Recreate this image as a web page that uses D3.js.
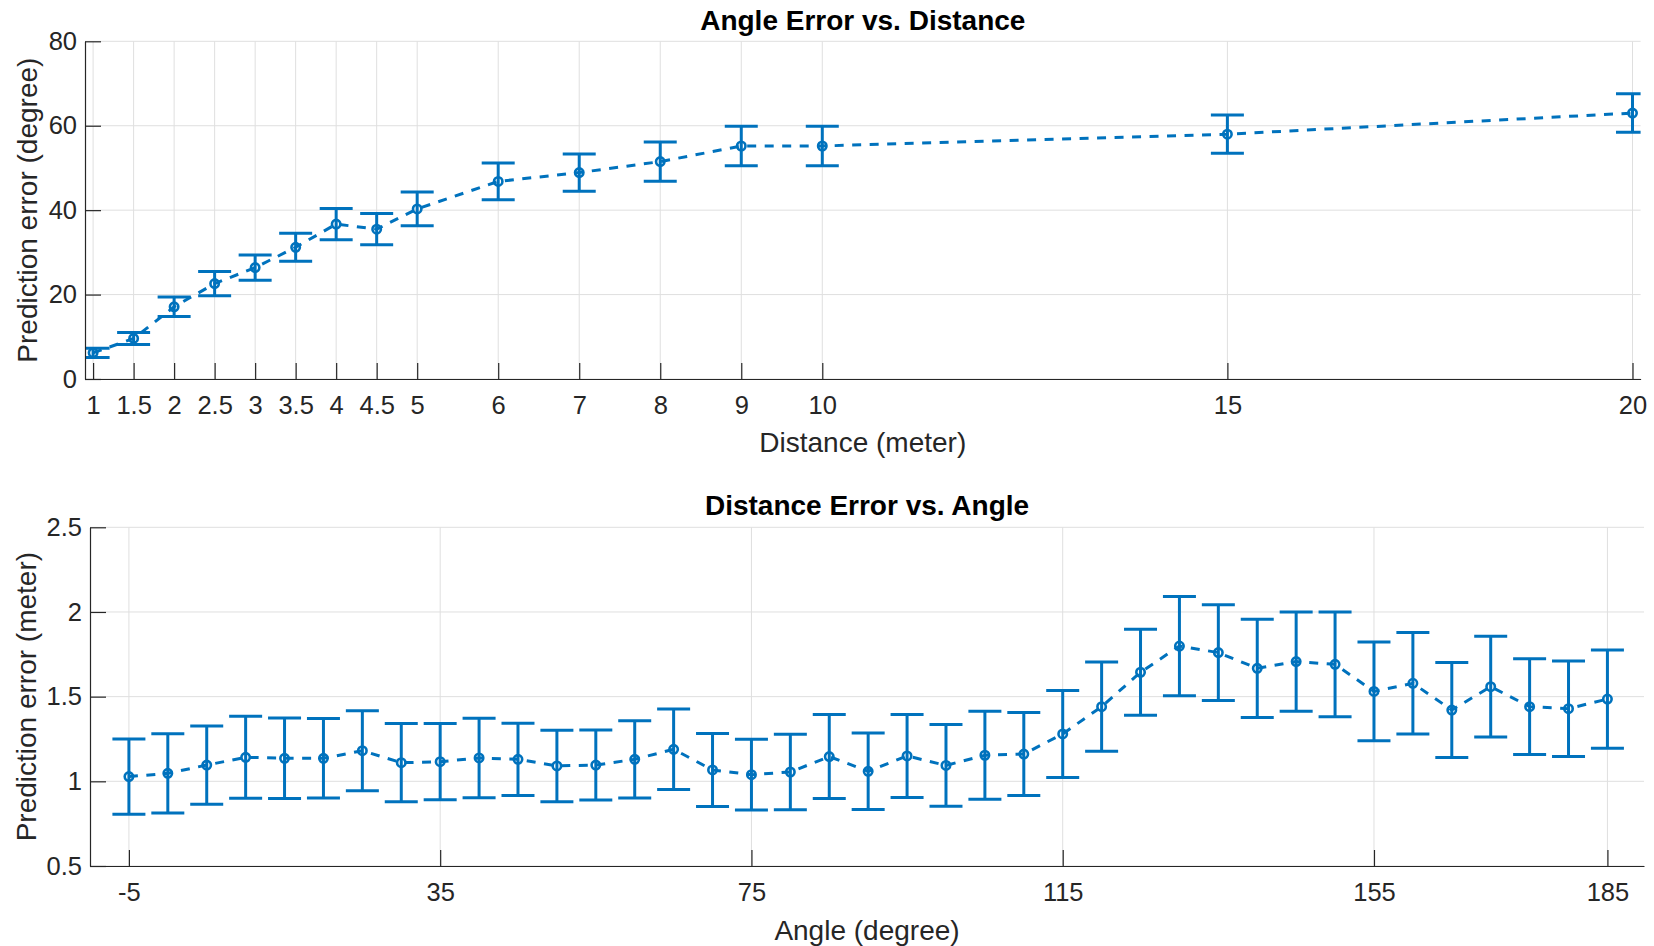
<!DOCTYPE html>
<html><head><meta charset="utf-8">
<script src="https://cdn.jsdelivr.net/npm/d3@7"></script>
<style>
body{margin:0;background:#fff}
svg{display:block}
text{font-family:"Liberation Sans",Arial,Helvetica,sans-serif}
</style>
</head><body>
<svg id="c" width="1654" height="946"></svg>
<script>
// ---- Top panel data: Angle Error vs. Distance ----
const distances = [1,1.5,2,2.5,3,3.5,4,4.5,5,6,7,8,9,10,15,20];
const angleErrMean = [6.2,9.6,17.1,22.6,26.4,31.2,36.7,35.5,40.3,46.8,48.9,51.5,55.2,55.2,58.0,63.0];
const angleErrStd  = [1.1,1.4,2.3,2.85,3.0,3.3,3.7,3.7,4.0,4.35,4.4,4.65,4.7,4.7,4.55,4.55];
const distTicks = [1,1.5,2,2.5,3,3.5,4,4.5,5,6,7,8,9,10,15,20];
const distTickLabels = ["1","1.5","2","2.5","3","3.5","4","4.5","5","6","7","8","9","10","15","20"];
const angErrTicks = [0,20,40,60,80];
const angErrTickLabels = ["0","20","40","60","80"];

// ---- Bottom panel data: Distance Error vs. Angle ----
const angles = [-5,0,5,10,15,20,25,30,35,40,45,50,55,60,65,70,75,80,85,90,95,100,105,110,115,120,125,130,135,140,145,150,155,160,165,170,175,180,185];
const distErrMean = [1.028,1.047,1.096,1.142,1.136,1.136,1.181,1.110,1.116,1.138,1.130,1.091,1.096,1.130,1.189,1.067,1.039,1.055,1.146,1.059,1.150,1.094,1.154,1.161,1.280,1.441,1.644,1.799,1.760,1.667,1.707,1.691,1.531,1.579,1.421,1.559,1.441,1.429,1.486];
const distErrStd  = [0.222,0.234,0.231,0.242,0.238,0.235,0.236,0.231,0.225,0.235,0.213,0.211,0.207,0.228,0.238,0.215,0.209,0.223,0.248,0.226,0.245,0.241,0.260,0.245,0.257,0.263,0.254,0.293,0.282,0.290,0.293,0.309,0.292,0.300,0.281,0.297,0.283,0.282,0.290];
const angleTicks = [-5,35,75,115,155,185];
const angleTickLabels = ["-5","35","75","115","155","185"];
const distErrTicks = [0.5,1,1.5,2,2.5];
const distErrTickLabels = ["0.5","1","1.5","2","2.5"];

const BLUE = "#0072BD";
const AX = "#262626";
const GRID = "#dfdfdf";
const svg = d3.select("#c");
const defs = svg.append("defs");

function panel(o){
  const x = d3.scaleLinear().domain(o.xDomain).range([o.left, o.right]);
  const y = d3.scaleLinear().domain(o.yDomain).range([o.bottom, o.top]);
  const g = svg.append("g");

  // grid
  g.append("g").selectAll("line").data(o.xTicks).join("line")
    .attr("x1", d => x(d)).attr("x2", d => x(d))
    .attr("y1", o.top).attr("y2", o.bottom)
    .attr("stroke", GRID).attr("stroke-width", 1);
  g.append("g").selectAll("line").data(o.yTicks).join("line")
    .attr("x1", o.left).attr("x2", o.right)
    .attr("y1", d => y(d)).attr("y2", d => y(d))
    .attr("stroke", GRID).attr("stroke-width", 1);

  // clip
  defs.append("clipPath").attr("id", o.id)
    .append("rect").attr("x", o.left).attr("y", o.top)
    .attr("width", o.right - o.left).attr("height", o.bottom - o.top);

  const data = o.xs.map((v, i) => ({x: v, m: o.means[i], e: o.errs[i]}));
  const pg = g.append("g").attr("clip-path", `url(#${o.id})`);

  pg.append("path").datum(data)
    .attr("d", d3.line().x(d => x(d.x)).y(d => y(d.m)))
    .attr("fill", "none").attr("stroke", BLUE)
    .attr("stroke-width", 3).attr("stroke-dasharray", "9,8.5");

  const cap = 16.5;
  const eb = pg.append("g").attr("stroke", BLUE).attr("stroke-width", 3).attr("fill", "none");
  eb.selectAll(".v").data(data).join("line").attr("class", "v")
    .attr("x1", d => x(d.x)).attr("x2", d => x(d.x))
    .attr("y1", d => y(d.m - d.e)).attr("y2", d => y(d.m + d.e));
  eb.selectAll(".t").data(data).join("line").attr("class", "t")
    .attr("x1", d => x(d.x) - cap).attr("x2", d => x(d.x) + cap)
    .attr("y1", d => y(d.m + d.e)).attr("y2", d => y(d.m + d.e));
  eb.selectAll(".b").data(data).join("line").attr("class", "b")
    .attr("x1", d => x(d.x) - cap).attr("x2", d => x(d.x) + cap)
    .attr("y1", d => y(d.m - d.e)).attr("y2", d => y(d.m - d.e));

  g.append("g").selectAll("circle").data(data).join("circle")
    .attr("cx", d => x(d.x)).attr("cy", d => y(d.m)).attr("r", 4.2)
    .attr("fill", "none").attr("stroke", BLUE).attr("stroke-width", 2.6);

  // axes
  const xa = g.append("g").attr("transform", `translate(0,${o.bottom})`)
    .call(d3.axisBottom(x).tickValues(o.xTicks).tickFormat((d, i) => o.xLabels[i])
      .tickSizeInner(-16).tickSizeOuter(0).tickPadding(17));
  const ya = g.append("g").attr("transform", `translate(${o.left},0)`)
    .call(d3.axisLeft(y).tickValues(o.yTicks).tickFormat((d, i) => o.yLabels[i])
      .tickSizeInner(-16).tickSizeOuter(0).tickPadding(8));
  [xa, ya].forEach(a => {
    a.attr("font-size", 25.5);
    a.selectAll("path,line").attr("stroke", AX).attr("stroke-width", 1.2);
    a.selectAll("text").attr("fill", AX);
  });

  // labels
  const cx = (o.left + o.right) / 2;
  g.append("text").attr("x", cx).attr("y", o.titleY).attr("text-anchor", "middle")
    .attr("font-size", 28).attr("font-weight", "bold").attr("fill", "#000").text(o.title);
  g.append("text").attr("x", cx).attr("y", o.xLabelY).attr("text-anchor", "middle")
    .attr("font-size", 28).attr("fill", AX).text(o.xLabel);
  g.append("text").attr("transform", `translate(${o.yLabelX},${(o.top + o.bottom) / 2}) rotate(-90)`)
    .attr("text-anchor", "middle").attr("font-size", 28).attr("fill", AX).text(o.yLabel);
}

panel({
  id: "clipTop", left: 85, right: 1640.6, top: 41.3, bottom: 379,
  xDomain: [0.9, 20.1], yDomain: [0, 80],
  xs: distances, means: angleErrMean, errs: angleErrStd,
  xTicks: distTicks, xLabels: distTickLabels, yTicks: angErrTicks, yLabels: angErrTickLabels,
  title: "Angle Error vs. Distance", titleY: 30,
  xLabel: "Distance (meter)", xLabelY: 452,
  yLabel: "Prediction error (degree)", yLabelX: 37
});

panel({
  id: "clipBot", left: 90, right: 1644, top: 527.3, bottom: 866,
  xDomain: [-10, 189.7], yDomain: [0.5, 2.5],
  xs: angles, means: distErrMean, errs: distErrStd,
  xTicks: angleTicks, xLabels: angleTickLabels, yTicks: distErrTicks, yLabels: distErrTickLabels,
  title: "Distance Error vs. Angle", titleY: 515,
  xLabel: "Angle (degree)", xLabelY: 940,
  yLabel: "Prediction error (meter)", yLabelX: 36
});
</script>
</body></html>
